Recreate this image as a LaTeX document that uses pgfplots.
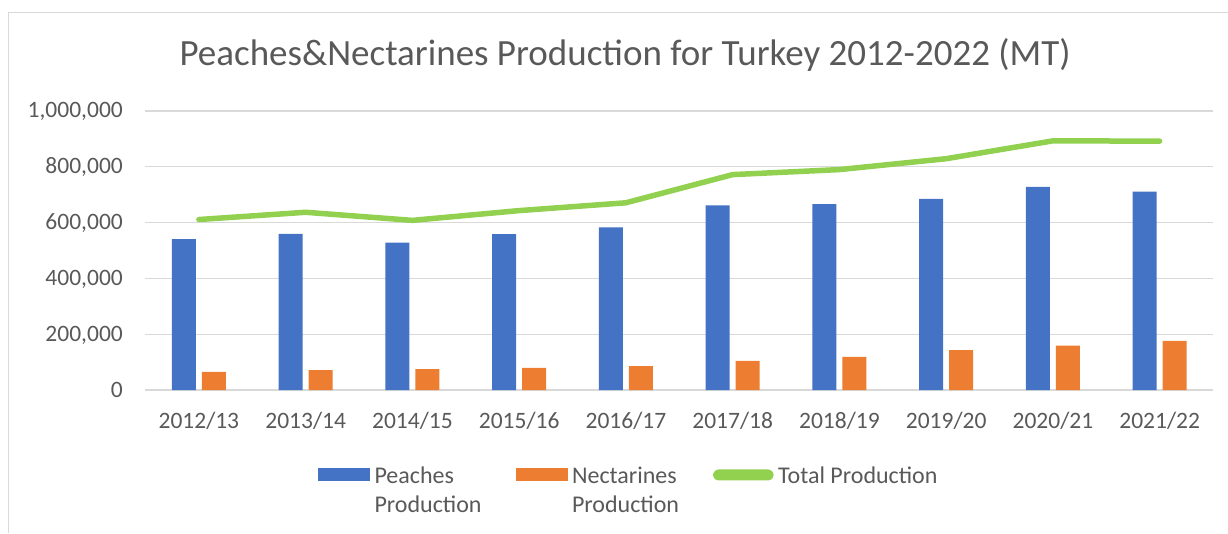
\documentclass[border=0pt]{standalone}
\usepackage{pgfplots}
\pgfplotsset{compat=1.18}
\usepackage{fontspec}
\setmainfont{Carlito}
\definecolor{cblue}{HTML}{4472C4}
\definecolor{corange}{HTML}{ED7D31}
\definecolor{cgreen}{HTML}{92D050}
\definecolor{cgrid}{HTML}{D9D9D9}
\definecolor{ctext}{HTML}{595959}
\begin{document}
\begin{tikzpicture}
\path[use as bounding box] (0pt,0pt) rectangle (1228pt,533pt);
\draw[cgrid, line width=1.5pt] (8.5pt,0pt) -- (8.5pt,520.5pt) -- (1228pt,520.5pt);
\node[anchor=base, text=ctext, font=\fontsize{37}{44}\selectfont, inner sep=0pt] at (625pt,467pt) {Peaches\&Nectarines Production for Turkey 2012-2022 (MT)};
\begin{axis}[
  at={(145.5pt,143pt)}, anchor=south west,
  scale only axis, width=1067.5pt, height=279pt,
  xmin=-0.5, xmax=9.5, ymin=0, ymax=1000000,
  xtick={0,...,9},
  xticklabels={2012/13,2013/14,2014/15,2015/16,2016/17,2017/18,2018/19,2019/20,2020/21,2021/22},
  ytick={0,200000,400000,600000,800000,1000000},
  scaled y ticks=false,
  /pgf/number format/.cd, fixed, 1000 sep={,}, assume math mode=true, /pgfplots/.cd,
  axis line style={draw=none},
  major tick length=0pt,
  tick style={draw=none},
  ymajorgrids,
  major grid style={cgrid, line width=1.3pt},
  tick label style={text=ctext, font=\fontsize{23.5}{28}\selectfont, inner sep=0pt},
  yticklabel style={anchor=base east, xshift=-22.5pt, yshift=-7pt},
  xticklabel style={anchor=base, yshift=-38pt},
  bar width=24pt,
  legend style={at={(axis description cs:0.1616,-0.2283)}, anchor=north west,
    draw=none, fill=none, inner sep=0pt, outer sep=0pt,
    font=\fontsize{24}{29}\selectfont, text=ctext,
    cells={anchor=north west, align=left, inner sep=0pt},
    /tikz/every odd column/.style={column sep=2.5pt},
    /tikz/every even column/.style={column sep=32pt, nodes={yshift=10pt}}},
  legend columns=3,
]
\addplot[ybar, bar shift=-15pt, fill=cblue, draw=none,
  legend image code/.code={\path (0pt,18.5pt); \fill[cblue] (0pt,-6.5pt) rectangle (52pt,6.5pt);}]
  coordinates {(0,541000) (1,560000) (2,528000) (3,559000) (4,583000) (5,662000) (6,666000) (7,685000) (8,728000) (9,711000)};
\addlegendentry{Peaches\\Production}
\addplot[ybar, bar shift=15pt, fill=corange, draw=none,
  legend image code/.code={\path (0pt,18.5pt); \fill[corange] (0pt,-6.5pt) rectangle (52pt,6.5pt);}]
  coordinates {(0,65000) (1,71000) (2,75000) (3,79000) (4,86000) (5,104000) (6,119000) (7,143000) (8,159000) (9,176000)};
\addlegendentry{Nectarines\\Production}
\addplot[cgreen, line width=5.5pt, line cap=round, line join=round, mark=none,
  legend image code/.code={\path (0pt,18.5pt) (0pt,-6.5pt) (55pt,0pt); \fill[cgreen, rounded corners=2.7pt] (0pt,-2.75pt) rectangle (55pt,2.75pt);}]
  coordinates {(0,611000) (1,637000) (2,608000) (3,643000) (4,671000) (5,772000) (6,790000) (7,829000) (8,893000) (9,892000)};
\addlegendentry{Total Production}
\end{axis}
\end{tikzpicture}
\end{document}
